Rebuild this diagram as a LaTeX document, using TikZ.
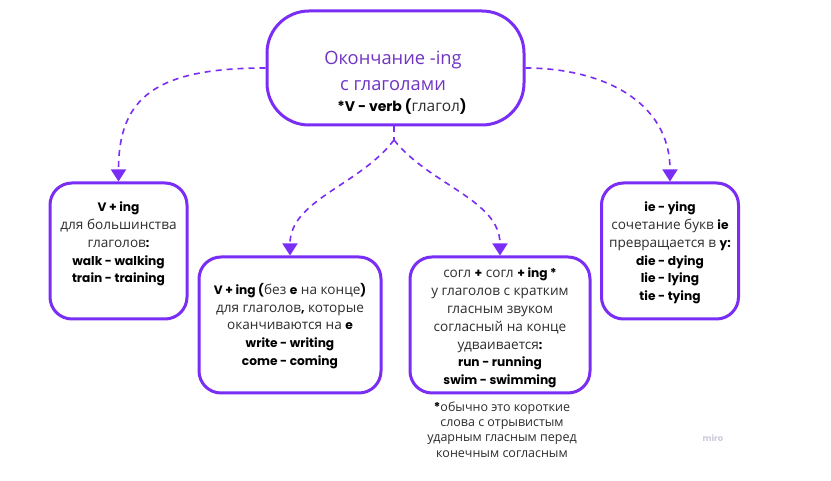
\documentclass[tikz,border=0pt]{standalone}
\usepackage{fontspec}
\setmainfont{Open Sans}
\newfontfamily\popfont{Poppins}
\usetikzlibrary{arrows.meta}
\definecolor{vio}{RGB}{122,46,245}
\definecolor{ttl}{RGB}{112,52,196}
\definecolor{txt}{RGB}{45,45,45}
\definecolor{mirocol}{RGB}{205,203,220}
\newcommand\Bd[1]{{\popfont\bfseries\color{black}\fontsize{12.2}{17.8}\selectfont#1}}
\newcommand\Bt[1]{{\popfont\bfseries\color{black}\fontsize{14}{18}\selectfont#1}}
\tikzset{
  boxstyle/.style={draw=vio, line width=3pt, rounded corners=22pt, fill=white, inner sep=0pt},
  bodytext/.style={align=center, text=txt, font=\fontsize{13.6}{17.8}\selectfont, inner sep=0pt},
  notetext/.style={align=center, text=txt, font=\fontsize{12.5}{15.3}\selectfont, inner sep=0pt},
  link/.style={draw=vio, line width=1.6pt, dash pattern=on 6pt off 5pt, -{Triangle[width=15pt,length=12pt]}},
}
\begin{document}
\begin{tikzpicture}[x=1pt,y=-1pt]
\useasboundingbox[fill=white] (0,0) rectangle (831,481);
% boxes
\node[boxstyle, rounded corners=42pt, minimum width=257pt, minimum height=114pt] (main) at (395.5,68) {};
\node[boxstyle, minimum width=137pt, minimum height=136pt] (b1) at (118.5,251) {};
\node[boxstyle, minimum width=182pt, minimum height=136pt] (b2) at (290,325) {};
\node[boxstyle, minimum width=180pt, minimum height=136pt] (b3) at (500,325) {};
\node[boxstyle, minimum width=137pt, minimum height=136pt] (b4) at (670,251) {};
% texts
\node[align=center, text=ttl, font=\fontsize{18.3}{26}\selectfont, inner sep=0pt] (t0) at (393,70.5) {Окончание -ing\\с глаголами};
\node[bodytext, font=\fontsize{15.5}{18}\selectfont] (t0b) at (402,107) {\Bt{*V - verb (}глагол\Bt{)}};
\node[bodytext] (t1) at (118.5,244) {\Bd{V + ing}\\для большинства\\глаголов\Bd{:}\\\Bd{walk - walking}\\\Bd{train - training}};
\node[bodytext] (t2) at (290,326) {\Bd{V + ing (}без \Bd{e} на конце\Bd{)}\\для глаголов\Bd{,} которые\\оканчиваются на \Bd{e}\\\Bd{write - writing}\\\Bd{come - coming}};
\node[bodytext] (t3) at (500,328) {согл \Bd{+} согл \Bd{+ ing *}\\у глаголов с кратким\\гласным звуком\\согласный на конце\\удваивается\Bd{:}\\\Bd{run - running}\\\Bd{swim - swimming}};
\node[bodytext] (t4) at (670,253) {\Bd{ie - ying}\\сочетание букв \Bd{ie}\\превращается в \Bd{y:}\\\Bd{die - dying}\\\Bd{lie - lying}\\\Bd{tie - tying}};
\node[notetext] (note) at (502,429.5) {\Bd{*}обычно это короткие\\слова с отрывистым\\ударным гласным перед\\конечным согласным};
\node[text=mirocol, font=\popfont\bfseries\fontsize{8.5}{10}\selectfont, inner sep=0pt] (miro) at (713,438) {miro};
% connectors
\coordinate (split) at (394,140);
\draw[link] (main.west) .. controls (155,68) and (118.5,98) .. (b1.north);
\draw[link] (main.east) .. controls (600,68) and (670,100) .. (b4.north);
\draw[draw=vio, line width=1.6pt, dash pattern=on 6pt off 5pt] (main.south -| split) -- (split);
\draw[link] (split) .. controls (360,185) and (290,200) .. (b2.north);
\draw[link] (split) .. controls (430,185) and (500,200) .. (b3.north);
\end{tikzpicture}
\end{document}
